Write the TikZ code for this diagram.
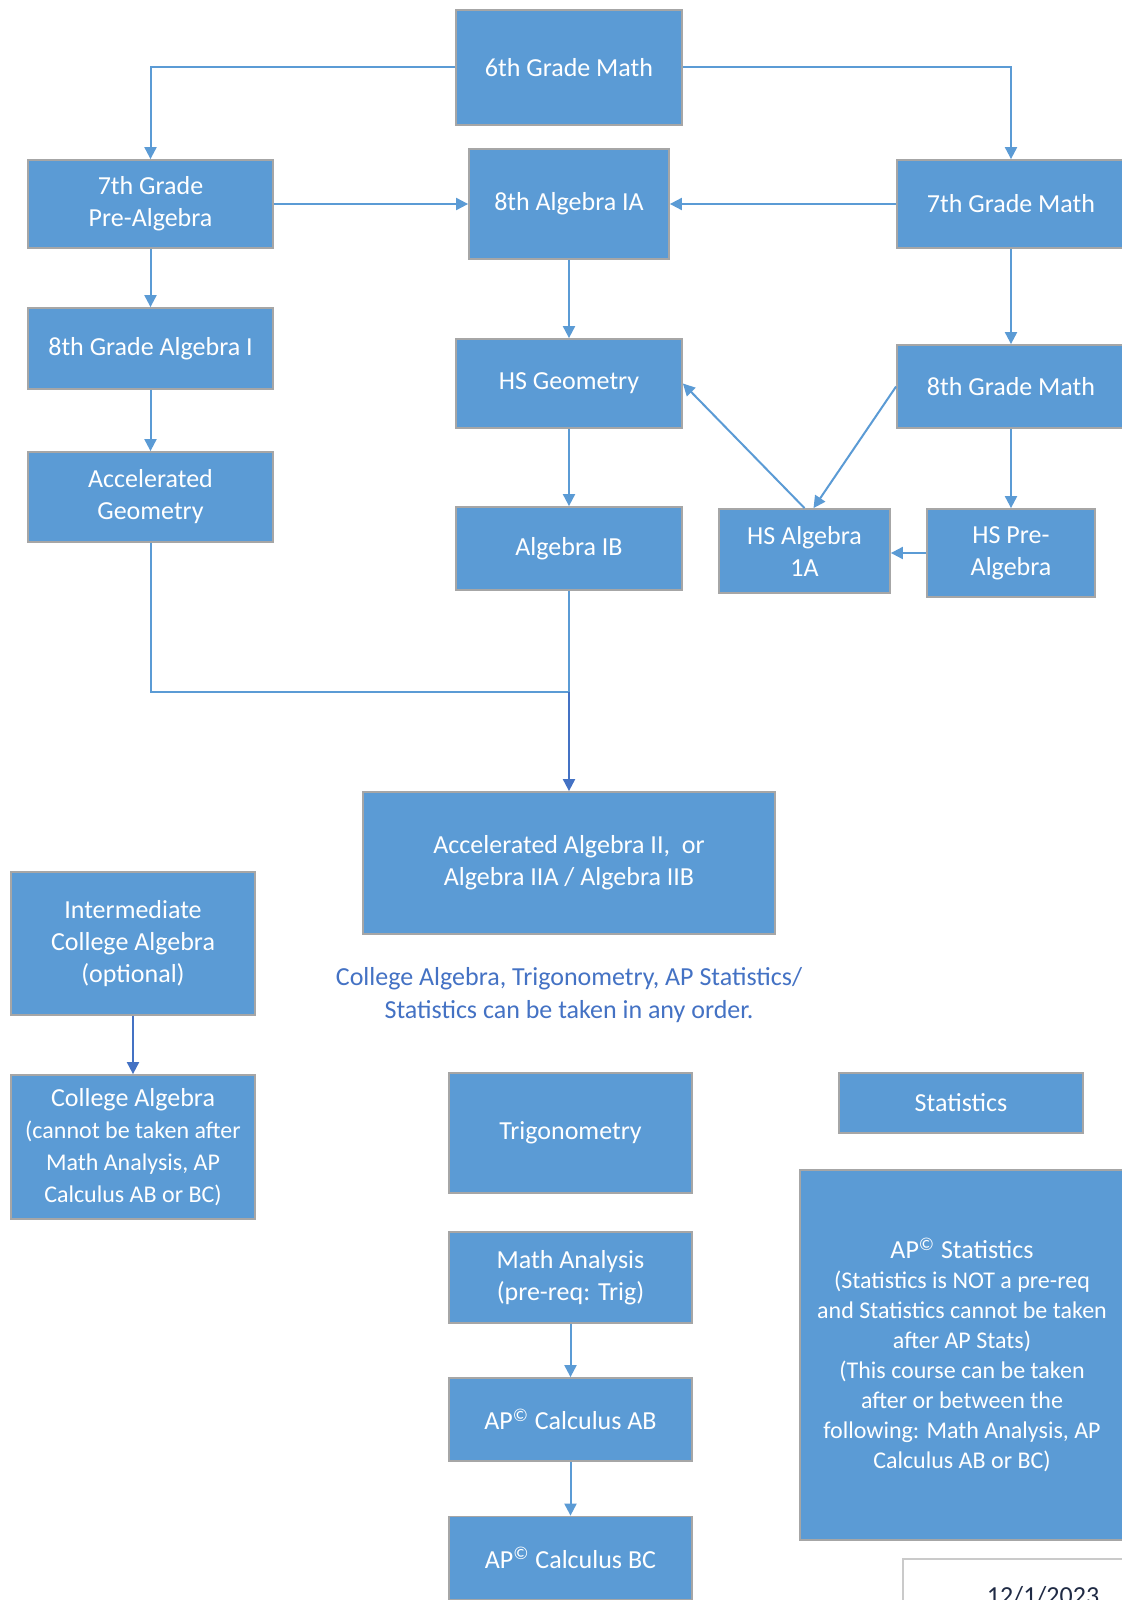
\documentclass[tikz,border=0pt]{standalone}
\usepackage{fontspec}
\setmainfont{Carlito}
\usetikzlibrary{arrows.meta}
\definecolor{boxblue}{HTML}{5B9BD5}
\definecolor{boxedge}{HTML}{A6A6A6}
\definecolor{darkarrow}{HTML}{4472C4}
\definecolor{notecol}{HTML}{4472C4}
\definecolor{datecol}{HTML}{1F2A44}
\begin{document}
\begin{tikzpicture}[x=0.5pt,y=-0.5pt,
    course/.style={draw=boxedge, line width=0.9pt, fill=boxblue, text=white,
      align=center, inner sep=2pt, font=\fontsize{13}{16}\selectfont},
    small/.style={font=\fontsize{12}{15}\selectfont},
    boxsize/.style 2 args={minimum width=#1*0.5pt, minimum height=#2*0.5pt},
    link/.style={draw=boxblue, line width=1pt, -{Triangle[length=6pt,width=6pt]}},
    dlink/.style={link, draw=darkarrow}]
  \path[use as bounding box, fill=white] (0,0) rectangle (1122,1600);

  \node[course, boxsize={226}{115}] (g6) at (569,67.5) {6th Grade Math};
  \node[course, boxsize={245}{88}] (g7pre) at (150.5,204) {7th Grade\\Pre-Algebra};
  \node[course, boxsize={200}{110}] (alg8ia) at (569,204) {8th Algebra IA};
  \node[course, boxsize={228}{88}] (g7) at (1011,204) {7th Grade Math};
  \node[course, boxsize={245}{81}] (alg8) at (150.5,348.5) {8th Grade Algebra I};
  \node[course, boxsize={226}{89}] (hsgeo) at (569,383.5) {HS Geometry};
  \node[course, boxsize={228}{83}] (g8) at (1011,386.5) {8th Grade Math};
  \node[course, boxsize={245}{90}] (accgeo) at (150.5,497) {Accelerated\\Geometry};
  \node[course, boxsize={226}{83}] (algib) at (569,548.5) {Algebra IB};
  \node[course, boxsize={171}{84}] (hsalg) at (804.5,551) {HS Algebra\\1A};
  \node[course, boxsize={168}{88}] (hspre) at (1011,553) {HS Pre-\\Algebra};
  \node[course, boxsize={412}{142}] (accalg2) at (569,863)
    {Accelerated Algebra II,\ \ or\\Algebra IIA / Algebra IIB};
  \node[course, boxsize={244}{143}] (intcol) at (133,943.5)
    {Intermediate\\College Algebra\\(optional)};
  \node[text=notecol, align=center, font=\fontsize{13}{16.5}\selectfont] (note) at (569,995)
    {College Algebra, Trigonometry, AP Statistics/\\Statistics can be taken in any order.};
  \node[course, boxsize={244}{144}] (colalg) at (133,1147)
    {College Algebra\\{\fontsize{12}{15}\selectfont (cannot be taken after}\\
     {\fontsize{12}{15}\selectfont Math Analysis, AP}\\{\fontsize{12}{15}\selectfont Calculus AB or BC)}};
  \node[course, boxsize={243}{120}] (trig) at (570.5,1133) {Trigonometry};
  \node[course, boxsize={244}{60}] (stats) at (961,1103) {Statistics};
  \node[course, boxsize={243}{91}] (mathan) at (570.5,1277.5) {Math Analysis\\(pre-req: Trig)};
  \node[course, boxsize={243}{83}] (apab) at (570.5,1419.5) {AP\textsuperscript{©} Calculus AB};
  \node[course, boxsize={243}{83}] (apbc) at (570.5,1558) {AP\textsuperscript{©} Calculus BC};
  \node[course, small, boxsize={324}{370}] (apstat) at (962,1355)
    {{\fontsize{13}{15}\selectfont AP\textsuperscript{©} Statistics}\\(Statistics is NOT a pre-req\\
     and Statistics cannot be taken\\after AP Stats)\\(This course can be taken\\
     after or between the\\following: Math Analysis, AP\\Calculus AB or BC)};
  \node[draw=boxedge!60, line width=0.8pt, anchor=north west, boxsize={300}{100}] (datebox) at (902,1558) {};
  \node[text=datecol, anchor=base, font=\fontsize{13}{16}\selectfont] (date) at (1043,1604) {12/1/2023};

  \coordinate (merge) at (569,692);

  \draw[link] (g6.west) -| (g7pre.north);
  \draw[link] (g6.east) -| (g7.north);
  \draw[link] (g7pre.east) -- (alg8ia.west);
  \draw[link] (g7.west) -- (alg8ia.east);
  \draw[link] (g7pre.south) -- (alg8.north);
  \draw[link] (alg8.south) -- (accgeo.north);
  \draw[link] (alg8ia.south) -- (hsgeo.north);
  \draw[link] (g7.south) -- (g8.north);
  \draw[link] (g8.west) -- ([xshift=4.5pt]hsalg.north);
  \draw[link] (hsalg.north) -- (hsgeo.east);
  \draw[link] (g8.south) -- (hspre.north);
  \draw[link] (hspre.west) -- (hspre.west -| hsalg.east);
  \draw[link] (hsgeo.south) -- (algib.north);
  \draw[link, -] (accgeo.south) |- (merge);
  \draw[link, -] (algib.south) -- (merge);
  \draw[dlink] (merge) -- (accalg2.north);
  \draw[dlink] (intcol.south) -- (colalg.north);
  \draw[link] (mathan.south) -- (apab.north);
  \draw[link] (apab.south) -- (apbc.north);
\end{tikzpicture}
\end{document}
